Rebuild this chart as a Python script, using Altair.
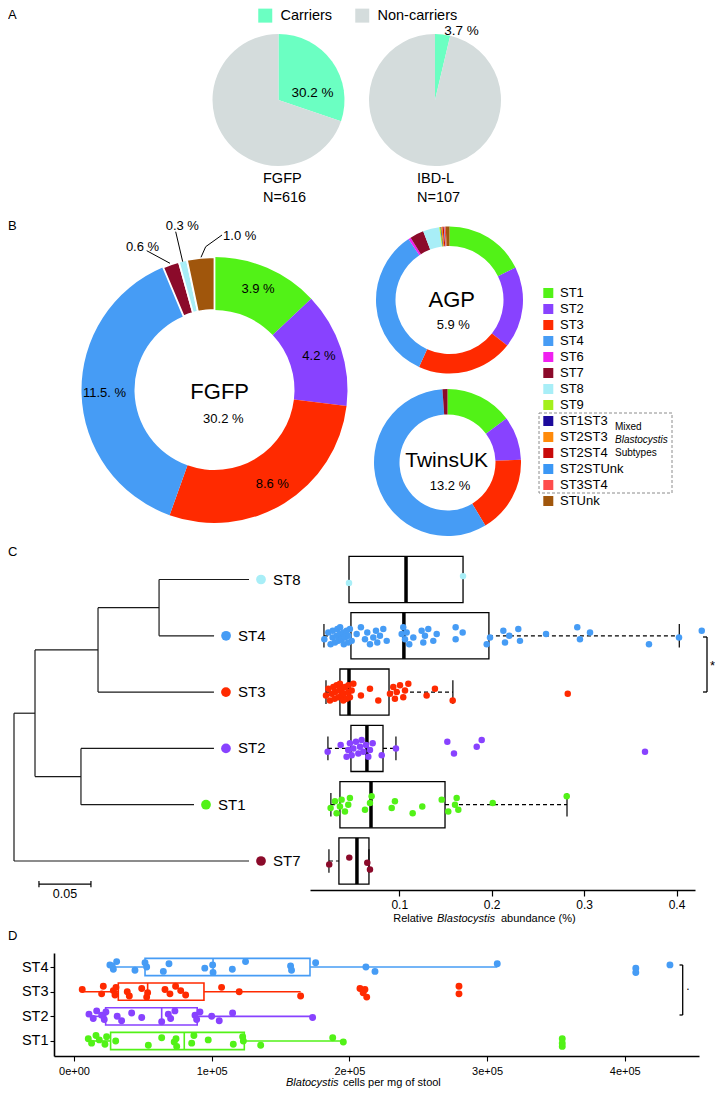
import altair as alt
import pandas as pd

M = 8                      # page margin added by the html page
W, H = 707, 1081           # whole canvas (fits the 723x1097 window)
FONT = "Liberation Sans"


def px(v):
    """position on the reference page -> position inside the chart"""
    return v - M


# ===================== data =====================
# ---- Panel A : prevalence
a_status = ["Carriers", "Non-carriers"]
a_colors = ["#6BFFC2", "#D4DCDC"]
a_fgfp = [30.2, 69.8]
a_ibdl = [3.7, 96.3]

# ---- Panel B : subtype composition
subtypes = ["ST1", "ST2", "ST3", "ST4", "ST6", "ST7", "ST8", "ST9",
            "ST1ST3", "ST2ST3", "ST2ST4", "ST2STUnk", "ST3ST4", "STUnk"]
subtype_colors = ["#52F217", "#8842FF", "#FF2A00", "#469CF5", "#F020F0",
                  "#8B0A2A", "#A8EEF7", "#A4F01C", "#1C0A9C", "#FF8A0A",
                  "#C80A0A", "#3A97F5", "#FF4C4C", "#A0560C"]
fgfp_types = ["ST1", "ST2", "ST3", "ST4", "ST7", "ST8", "STUnk"]
fgfp_pct = [3.9, 4.2, 8.6, 11.5, 0.6, 0.3, 1.0]
fgfp_labels = ["3.9 %", "4.2 %", "8.6 %", "11.5. %", "", "", ""]
agp_types = subtypes
agp_share = [17.75, 17.9, 21.2, 33.8, 0.55, 3.05, 3.6, 0.28, 0.14, 0.28,
             0.28, 0.14, 0.28, 0.83]
twins_types = ["ST1", "ST2", "ST3", "ST4", "ST7"]
twins_share = [14.8, 9.6, 17.0, 57.5, 1.1]

# ---- Panel C : tree + relative abundance
c_rows = ["ST8", "ST4", "ST3", "ST2", "ST1", "ST7"]
tree_child = ["A", "B", "C", "ST8", "ST4", "ST3", "D", "ST2", "ST1", "ST7"]
tree_parent = ["root", "A", "B", "C", "C", "B", "A", "D", "D", "root"]
tree_len = [0.0202, 0.0606, 0.0587, 0.0865, 0.0529, 0.1115, 0.0442,
            0.1279, 0.1087, 0.226]
scale_bar_len = 0.05

c_q1 = [0.0456, 0.0477, 0.0358, 0.0477, 0.0358, 0.0347]
c_med = [0.1073, 0.1050, 0.0456, 0.0650, 0.0694, 0.0542]
c_q3 = [0.1690, 0.1970, 0.0889, 0.0824, 0.1495, 0.0672]
c_wlo = [None, 0.0185, 0.0207, 0.0228, 0.0260, 0.0239]
c_whi = [None, 0.4030, 0.1580, 0.0964, 0.2815, 0.0672]

c_st8 = [0.0456, 0.169]
c_st4 = [0.0189, 0.0232, 0.0257, 0.0279, 0.028, 0.0304, 0.0322, 0.033, 0.034,
         0.0358, 0.036, 0.0376, 0.0394, 0.040, 0.0412, 0.043, 0.0448, 0.045,
         0.0466, 0.0485, 0.0539, 0.0585, 0.0629, 0.0654, 0.0683, 0.0719,
         0.0748, 0.0762, 0.0791, 0.0827, 0.0864, 0.1026, 0.1043, 0.1062,
         0.108, 0.1108, 0.1152, 0.1242, 0.126, 0.1278, 0.1314, 0.1368,
         0.1405, 0.161, 0.161, 0.1686, 0.1946, 0.1982, 0.2126, 0.2144, 0.219,
         0.2288, 0.2306, 0.2588, 0.2926, 0.2955, 0.3064, 0.3702, 0.4027,
         0.4273]
c_st3 = [0.0207, 0.0232, 0.025, 0.0268, 0.0286, 0.030, 0.0304, 0.0322,
         0.034, 0.035, 0.0358, 0.0376, 0.038, 0.0394, 0.040, 0.0412, 0.043,
         0.0448, 0.045, 0.0466, 0.0485, 0.0503, 0.0585, 0.0683, 0.0773,
         0.0899, 0.0935, 0.0953, 0.0972, 0.1008, 0.1043, 0.1062, 0.1098,
         0.1296, 0.1386, 0.1578, 0.2823]
c_st2 = [0.0225, 0.0366, 0.043, 0.0448, 0.0466, 0.0485, 0.0503, 0.0531,
         0.0557, 0.0575, 0.0593, 0.0611, 0.064, 0.0665, 0.0683, 0.0712,
         0.081, 0.0964, 0.152, 0.1592, 0.1838, 0.1892, 0.3659]
c_st1 = [0.0257, 0.0304, 0.0322, 0.0358, 0.0376, 0.0412, 0.0448, 0.0466,
         0.0629, 0.0683, 0.0701, 0.0918, 0.0953, 0.1145, 0.1249, 0.1459,
         0.153, 0.1603, 0.1621, 0.1639, 0.2011, 0.2812]
c_st7 = [0.0242, 0.0459, 0.0683, 0.0654]

# ---- Panel D : cells per mg of stool
d_rows = ["ST1", "ST2", "ST3", "ST4"]
d_q1 = [26600, 23000, 32200, 51600]
d_med = [80100, 63700, 53500, 101000]
d_q3 = [123700, 89500, 94400, 171400]
d_wlo = [10400, 10900, 6000, 26100]
d_whi = [195600, 173300, 164600, 307400]
d_st1 = [10400, 12800, 16000, 18400, 22500, 23700, 30300, 54000, 63700,
         72800, 74600, 74100, 85500, 87100, 97500, 115700, 122500, 123000,
         135600, 187900, 195600, 354600, 354600, 354600]
d_st2 = [10900, 14000, 16500, 20100, 22000, 23200, 31400, 34600, 41900,
         49200, 63700, 68500, 70200, 73300, 87900, 89100, 91500, 100000,
         105500, 115200, 173300]
d_st3 = [6000, 20100, 21300, 28600, 29800, 30500, 38700, 40200, 49200,
         53500, 52800, 66100, 69700, 73800, 77500, 81100, 107200, 120000,
         164600, 207700, 210000, 212600, 211300, 279600, 279600]
d_st4 = [26100, 28600, 31000, 27800, 44300, 51600, 52800, 64900, 69000,
         95000, 101000, 100700, 115000, 124600, 157300, 158000, 175500,
         212000, 218600, 307400, 408000, 408000, 432800]

# ===================== helpers =====================
st_scale = alt.Scale(domain=subtypes, range=subtype_colors)


def T(s, x, y, size, align="center", italic=False, baseline="middle",
      color="black"):
    kw = dict(fontSize=size, align=align, baseline=baseline, color=color,
              font=FONT)
    if italic:
        kw["fontStyle"] = "italic"
    return alt.Chart(pd.DataFrame({"s": [s]})).mark_text(**kw).encode(
        text="s:N", x=alt.value(px(x)), y=alt.value(px(y)))


def L(x1, y1, x2, y2, width=1.0, color="black"):
    return alt.Chart(pd.DataFrame({"k": [0]})).mark_rule(
        color=color, strokeWidth=width).encode(
        x=alt.value(px(x1)), x2=alt.value(px(x2)),
        y=alt.value(px(y1)), y2=alt.value(px(y2)))


# ===================== Panel A =====================
a_legend = alt.Legend(orient="none", legendX=px(258), legendY=0,
                      direction="horizontal", title=None,
                      symbolType="square", symbolSize=196,
                      symbolStrokeWidth=0, labelFontSize=14.5, labelFont=FONT,
                      labelColor="black", labelOffset=8, columnPadding=22)


def pie(vals, cx, cy):
    df = pd.DataFrame({"status": a_status, "value": vals, "k": [0, 1]})
    return alt.Chart(df).mark_arc(outerRadius=66).encode(
        theta=alt.Theta("value:Q", stack=True),
        order=alt.Order("k:Q"),
        color=alt.Color("status:N",
                        scale=alt.Scale(domain=a_status, range=a_colors),
                        legend=a_legend),
        x=alt.value(px(cx)), y=alt.value(px(cy)))


panelA = alt.layer(pie(a_fgfp, 278.5, 100),
                   pie(a_ibdl, 435, 100)).resolve_scale(theta="independent")


# ===================== Panel B =====================
def donut(types, vals, labels, cx, cy, r_out, r_in, lab_r=None, gaps=False):
    df = pd.DataFrame({"subtype": types, "value": vals, "label": labels,
                       "k": list(range(len(types)))})
    base = alt.Chart(df).encode(
        theta=alt.Theta("value:Q", stack=True),
        order=alt.Order("k:Q"),
        x=alt.value(px(cx)), y=alt.value(px(cy)))
    sw = (alt.condition("datum.value < 2", alt.value(1.8), alt.value(0))
          if gaps else alt.value(0))
    arc = base.mark_arc(outerRadius=r_out, innerRadius=r_in,
                        stroke="white").encode(
        color=alt.Color("subtype:N", scale=st_scale, legend=None),
        strokeWidth=sw)
    layers = [arc]
    if lab_r is not None:
        layers.append(base.mark_text(radius=lab_r, fontSize=13,
                                     color="black", font=FONT).encode(
            text="label:N", detail="subtype:N"))
    return alt.layer(*layers)


panelB = alt.layer(
    donut(fgfp_types, fgfp_pct, fgfp_labels, 214.5, 390, 133, 80, 110, True),
    donut(agp_types, agp_share, [""] * len(agp_types), 449.5, 300, 73.5, 54),
    donut(twins_types, twins_share, [""] * len(twins_types), 447.5, 462.5,
          73.5, 48),
).resolve_scale(theta="independent")

leg_df = pd.DataFrame({"subtype": subtypes})
leg_y = alt.Y("subtype:N", sort=subtypes, axis=None,
              scale=alt.Scale(type="point", domain=subtypes,
                              range=[px(285), px(509)], padding=0.5))
legendB = alt.layer(
    alt.Chart(leg_df).mark_square(size=100, opacity=1).encode(
        x=alt.value(px(548.3)), y=leg_y,
        color=alt.Color("subtype:N", scale=st_scale, legend=None)),
    alt.Chart(leg_df).mark_text(align="left", baseline="middle", fontSize=13,
                                font=FONT, color="black").encode(
        x=alt.value(px(560)), y=leg_y, text="subtype:N"),
)

# ===================== Panel C =====================
depth = {"root": 0.0}
children = {}
for ch, pa, ln in zip(tree_child, tree_parent, tree_len):
    depth[ch] = depth[pa] + ln
    children.setdefault(pa, []).append(ch)
ypos = {t: float(i) for i, t in enumerate(c_rows)}


def node_y(n):
    if n not in ypos:
        ys = [node_y(k) for k in children[n]]
        ypos[n] = sum(ys) / len(ys)
    return ypos[n]


node_y("root")
edge_rows = []
for ch, pa in zip(tree_child, tree_parent):
    edge_rows.append(dict(x=depth[pa], x2=depth[ch], y=ypos[ch], y2=ypos[ch]))
for n, ks in children.items():
    ys = [ypos[k] for k in ks]
    edge_rows.append(dict(x=depth[n], x2=depth[n], y=min(ys), y2=max(ys)))
edges_df = pd.DataFrame(edge_rows)
tips_df = pd.DataFrame({"subtype": c_rows,
                        "x": [depth[t] for t in c_rows],
                        "y": [ypos[t] for t in c_rows]})

tx = alt.Scale(domain=[0, 0.226], range=[px(14), px(249)], nice=False,
               zero=False)
cy = alt.Scale(domain=[0, 5], range=[px(579.5), px(861)], nice=False,
               zero=False)
sb_start, sb_y = 0.024, 5.41
sb_df = pd.DataFrame({"x": [sb_start], "x2": [sb_start + scale_bar_len],
                      "y": [sb_y], "lab": [f"{scale_bar_len:.2f}"]})

tree = alt.layer(
    alt.Chart(edges_df).mark_rule(color="#1a1a1a", strokeWidth=1.2).encode(
        x=alt.X("x:Q", scale=tx, axis=None), x2="x2:Q",
        y=alt.Y("y:Q", scale=cy, axis=None), y2="y2:Q"),
    alt.Chart(tips_df).mark_circle(size=95, opacity=1, xOffset=12).encode(
        x=alt.X("x:Q", scale=tx, axis=None),
        y=alt.Y("y:Q", scale=cy, axis=None),
        color=alt.Color("subtype:N", scale=st_scale, legend=None)),
    alt.Chart(tips_df).mark_text(align="left", baseline="middle", dx=24,
                                 fontSize=15, font=FONT,
                                 color="black").encode(
        x=alt.X("x:Q", scale=tx, axis=None),
        y=alt.Y("y:Q", scale=cy, axis=None), text="subtype:N"),
    alt.Chart(sb_df).mark_rule(color="black", strokeWidth=1.2).encode(
        x=alt.X("x:Q", scale=tx, axis=None), x2="x2:Q",
        y=alt.Y("y:Q", scale=cy, axis=None)),
    alt.Chart(sb_df).transform_calculate(
        a="datum.y - 0.055", b="datum.y + 0.055").mark_rule(
        color="black", strokeWidth=1.2).encode(
        x=alt.X("x:Q", scale=tx, axis=None),
        y=alt.Y("a:Q", scale=cy, axis=None), y2="b:Q"),
    alt.Chart(sb_df).transform_calculate(
        a="datum.y - 0.055", b="datum.y + 0.055").mark_rule(
        color="black", strokeWidth=1.2).encode(
        x=alt.X("x2:Q", scale=tx, axis=None),
        y=alt.Y("a:Q", scale=cy, axis=None), y2="b:Q"),
    alt.Chart(sb_df).transform_calculate(
        m="(datum.x + datum.x2) / 2").mark_text(
        baseline="top", dy=4, fontSize=12.5, font=FONT,
        color="black").encode(
        x=alt.X("m:Q", scale=tx, axis=None),
        y=alt.Y("y:Q", scale=cy, axis=None), text="lab:N"),
)

bx = alt.Scale(domain=[0.0034, 0.42], range=[px(310), px(695)], nice=False,
               zero=False)
c_axis = alt.Axis(orient="bottom", offset=-(H - px(890)),
                  values=[0.1, 0.2, 0.3, 0.4], format=".1f", title=None,
                  grid=False, tickSize=6, tickWidth=1.2, domainWidth=1.6,
                  domainColor="black", tickColor="black", labelColor="black",
                  labelFontSize=12, labelFont=FONT, labelPadding=3)
cbox_df = pd.DataFrame({"subtype": c_rows, "row": list(range(len(c_rows))),
                        "q1": c_q1, "med": c_med, "q3": c_q3,
                        "wlo": c_wlo, "whi": c_whi})
cbase = alt.Chart(cbox_df).transform_calculate(
    lo="datum.row - 0.41", hi="datum.row + 0.41",
    clo="datum.row - 0.21", chi="datum.row + 0.21")
cwh = cbase.transform_filter("isValid(datum.wlo)")
c_pts_df = pd.concat([pd.DataFrame({"subtype": s, "value": v, "row": c_rows.index(s)})
                      for s, v in [("ST8", c_st8), ("ST4", c_st4),
                                   ("ST3", c_st3), ("ST2", c_st2),
                                   ("ST1", c_st1), ("ST7", c_st7)]],
                     ignore_index=True)

boxC = alt.layer(
    cbase.mark_rect(fillOpacity=0, stroke="black", strokeWidth=1.3).encode(
        x=alt.X("q1:Q", scale=bx, axis=c_axis), x2="q3:Q",
        y=alt.Y("lo:Q", scale=cy, axis=None), y2="hi:Q"),
    cwh.mark_rule(color="black", strokeWidth=1.2, strokeDash=[4, 3]).encode(
        x=alt.X("wlo:Q", scale=bx, axis=c_axis), x2="q1:Q",
        y=alt.Y("row:Q", scale=cy, axis=None)),
    cwh.mark_rule(color="black", strokeWidth=1.2, strokeDash=[4, 3]).encode(
        x=alt.X("q3:Q", scale=bx, axis=c_axis), x2="whi:Q",
        y=alt.Y("row:Q", scale=cy, axis=None)),
    cwh.mark_rule(color="black", strokeWidth=1.2).encode(
        x=alt.X("wlo:Q", scale=bx, axis=c_axis),
        y=alt.Y("clo:Q", scale=cy, axis=None), y2="chi:Q"),
    cwh.mark_rule(color="black", strokeWidth=1.2).encode(
        x=alt.X("whi:Q", scale=bx, axis=c_axis),
        y=alt.Y("clo:Q", scale=cy, axis=None), y2="chi:Q"),
    cbase.mark_rule(color="black", strokeWidth=3.5).encode(
        x=alt.X("med:Q", scale=bx, axis=c_axis),
        y=alt.Y("lo:Q", scale=cy, axis=None), y2="hi:Q"),
    alt.Chart(c_pts_df).transform_window(
        rn="row_number()", groupby=["subtype"]).transform_calculate(
        yj="datum.row + 0.15 * ((((datum.rn * 7) % 11) / 5) - 1)").mark_circle(
        size=42, opacity=1).encode(
        x=alt.X("value:Q", scale=bx, axis=c_axis),
        y=alt.Y("yj:Q", scale=cy, axis=None),
        color=alt.Color("subtype:N", scale=st_scale, legend=None)),
)
panelC = alt.layer(tree, boxC).resolve_scale(x="independent")

# ===================== Panel D =====================
dxs = alt.Scale(domain=[-14500, 453900], range=[px(54), px(699)], nice=False,
                zero=False)
dys = alt.Scale(domain=[-0.61, 3.57], range=[px(1056), px(953)], nice=False,
                zero=False)
d_label_expr = " : ".join(
    f"datum.value == {i} ? '{s}'" for i, s in enumerate(d_rows)) + " : ''"
d_xaxis = alt.Axis(orient="bottom", offset=-(H - px(1056)),
                   values=[0, 100000, 200000, 300000, 400000],
                   labelExpr="replace(format(datum.value, '.0e'), 'e+', 'e+0')",
                   title=None, grid=False, tickSize=5, tickWidth=1.1,
                   domainWidth=1.6, labelFontSize=11, labelFont=FONT,
                   domainColor="black", tickColor="black", labelColor="black",
                   labelPadding=4)
d_yaxis = alt.Axis(orient="left", offset=-px(54), values=[0, 1, 2, 3],
                   labelExpr=d_label_expr, title=None, grid=False, tickSize=4,
                   tickWidth=1.1, domainWidth=1.6, labelFontSize=14.5,
                   labelFont=FONT, labelPadding=2, domainColor="black",
                   tickColor="black", labelColor="black")
dbox_df = pd.DataFrame({"subtype": d_rows, "row": list(range(len(d_rows))),
                        "q1": d_q1, "med": d_med, "q3": d_q3,
                        "wlo": d_wlo, "whi": d_whi})
dbase = alt.Chart(dbox_df).transform_calculate(
    lo="datum.row - 0.35", hi="datum.row + 0.35")
d_pts_df = pd.concat([pd.DataFrame({"subtype": s, "value": v, "row": d_rows.index(s)})
                      for s, v in [("ST1", d_st1), ("ST2", d_st2),
                                   ("ST3", d_st3), ("ST4", d_st4)]],
                     ignore_index=True)
dcol = alt.Color("subtype:N", scale=st_scale, legend=None)
panelD = alt.layer(
    dbase.mark_rect(fillOpacity=0, strokeWidth=1.6).encode(
        x=alt.X("q1:Q", scale=dxs, axis=d_xaxis), x2="q3:Q",
        y=alt.Y("lo:Q", scale=dys, axis=d_yaxis), y2="hi:Q",
        stroke=alt.Stroke("subtype:N", scale=st_scale, legend=None)),
    dbase.mark_rule(strokeWidth=1.6).encode(
        x=alt.X("wlo:Q", scale=dxs, axis=d_xaxis), x2="q1:Q",
        y=alt.Y("row:Q", scale=dys, axis=d_yaxis), color=dcol),
    dbase.mark_rule(strokeWidth=1.6).encode(
        x=alt.X("q3:Q", scale=dxs, axis=d_xaxis), x2="whi:Q",
        y=alt.Y("row:Q", scale=dys, axis=d_yaxis), color=dcol),
    dbase.mark_rule(strokeWidth=1.6).encode(
        x=alt.X("med:Q", scale=dxs, axis=d_xaxis),
        y=alt.Y("lo:Q", scale=dys, axis=d_yaxis), y2="hi:Q", color=dcol),
    alt.Chart(d_pts_df).transform_window(
        rn="row_number()", groupby=["subtype"]).transform_calculate(
        yj="datum.row + 0.22 * ((((datum.rn * 7) % 11) / 5) - 1)").mark_circle(
        size=48, opacity=1).encode(
        x=alt.X("value:Q", scale=dxs, axis=d_xaxis),
        y=alt.Y("yj:Q", scale=dys, axis=d_yaxis), color=dcol),
)

# ===================== annotations =====================
annot = [
    # panel letters
    T("A", 8, 15, 13, align="left"),
    T("B", 8, 226, 13, align="left"),
    T("C", 8, 552, 13, align="left"),
    T("D", 8, 936, 13, align="left"),
    # panel A
    T("30.2 %", 312.5, 93, 13.5),
    T("3.7 %", 461.5, 31, 13.5),
    T("FGFP", 263, 179, 14.5, align="left"),
    T("N=616", 263, 198, 14.5, align="left"),
    T("IBD-L", 417, 179, 14.5, align="left"),
    T("N=107", 417, 198, 14.5, align="left"),
    # panel B
    T("FGFP", 219.7, 391.7, 22),
    T("30.2 %", 223.3, 419.3, 13),
    T("0.6 %", 142.5, 246.7, 13),
    T("0.3 %", 182.3, 226, 13),
    T("1.0 %", 239.7, 235.7, 13),
    L(146.7, 250.7, 170, 263.3),
    L(175.7, 231.7, 182.7, 261.7),
    L(222, 235, 205.7, 246.7),
    L(205.7, 246.7, 201, 257.3),
    T("AGP", 451.7, 300, 22),
    T("5.9 %", 453.3, 325, 13),
    T("TwinsUK", 446.7, 461, 21),
    T("13.2 %", 450, 486, 13),
    alt.Chart(pd.DataFrame({"k": [0]})).mark_rect(
        fillOpacity=0, stroke="#8c8c8c", strokeWidth=1,
        strokeDash=[3, 2]).encode(
        x=alt.value(px(539)), x2=alt.value(px(672)),
        y=alt.value(px(413)), y2=alt.value(px(493))),
    T("Mixed", 615, 427, 10, align="left"),
    T("Blastocystis", 615, 440, 10, align="left", italic=True),
    T("Subtypes", 615, 453, 10, align="left"),
    # panel C
    T("Relative", 433, 919, 11, align="right"),
    T("Blastocystis", 437, 919, 11, align="left", italic=True),
    T("abundance (%)", 501, 919, 11, align="left"),
    L(707, 637, 707, 692, 1.3),
    L(703, 637, 707, 637, 1.3),
    L(703, 692, 707, 692, 1.3),
    T("*", 712.5, 666, 13),
    # panel D
    T("Blatocystis", 286, 1083, 11, align="left", italic=True),
    T("cells per mg of stool", 343, 1083, 11, align="left"),
    L(682.7, 965, 682.7, 1015, 1.3),
    L(679.5, 965, 682.7, 965, 1.3),
    L(679.5, 1015, 682.7, 1015, 1.3),
    T(".", 688, 986, 12),
]

chart = alt.layer(
    panelA, panelB, legendB, panelC, panelD, *annot
).resolve_scale(
    x="independent", y="independent", color="independent",
    theta="independent", stroke="independent"
).properties(
    width=W, height=H, padding=0,
    autosize=alt.AutoSizeParams(type="none"),
).configure(font=FONT).configure_view(stroke=None)

chart.save("out.html", embed_options={"renderer": "svg", "actions": False})
